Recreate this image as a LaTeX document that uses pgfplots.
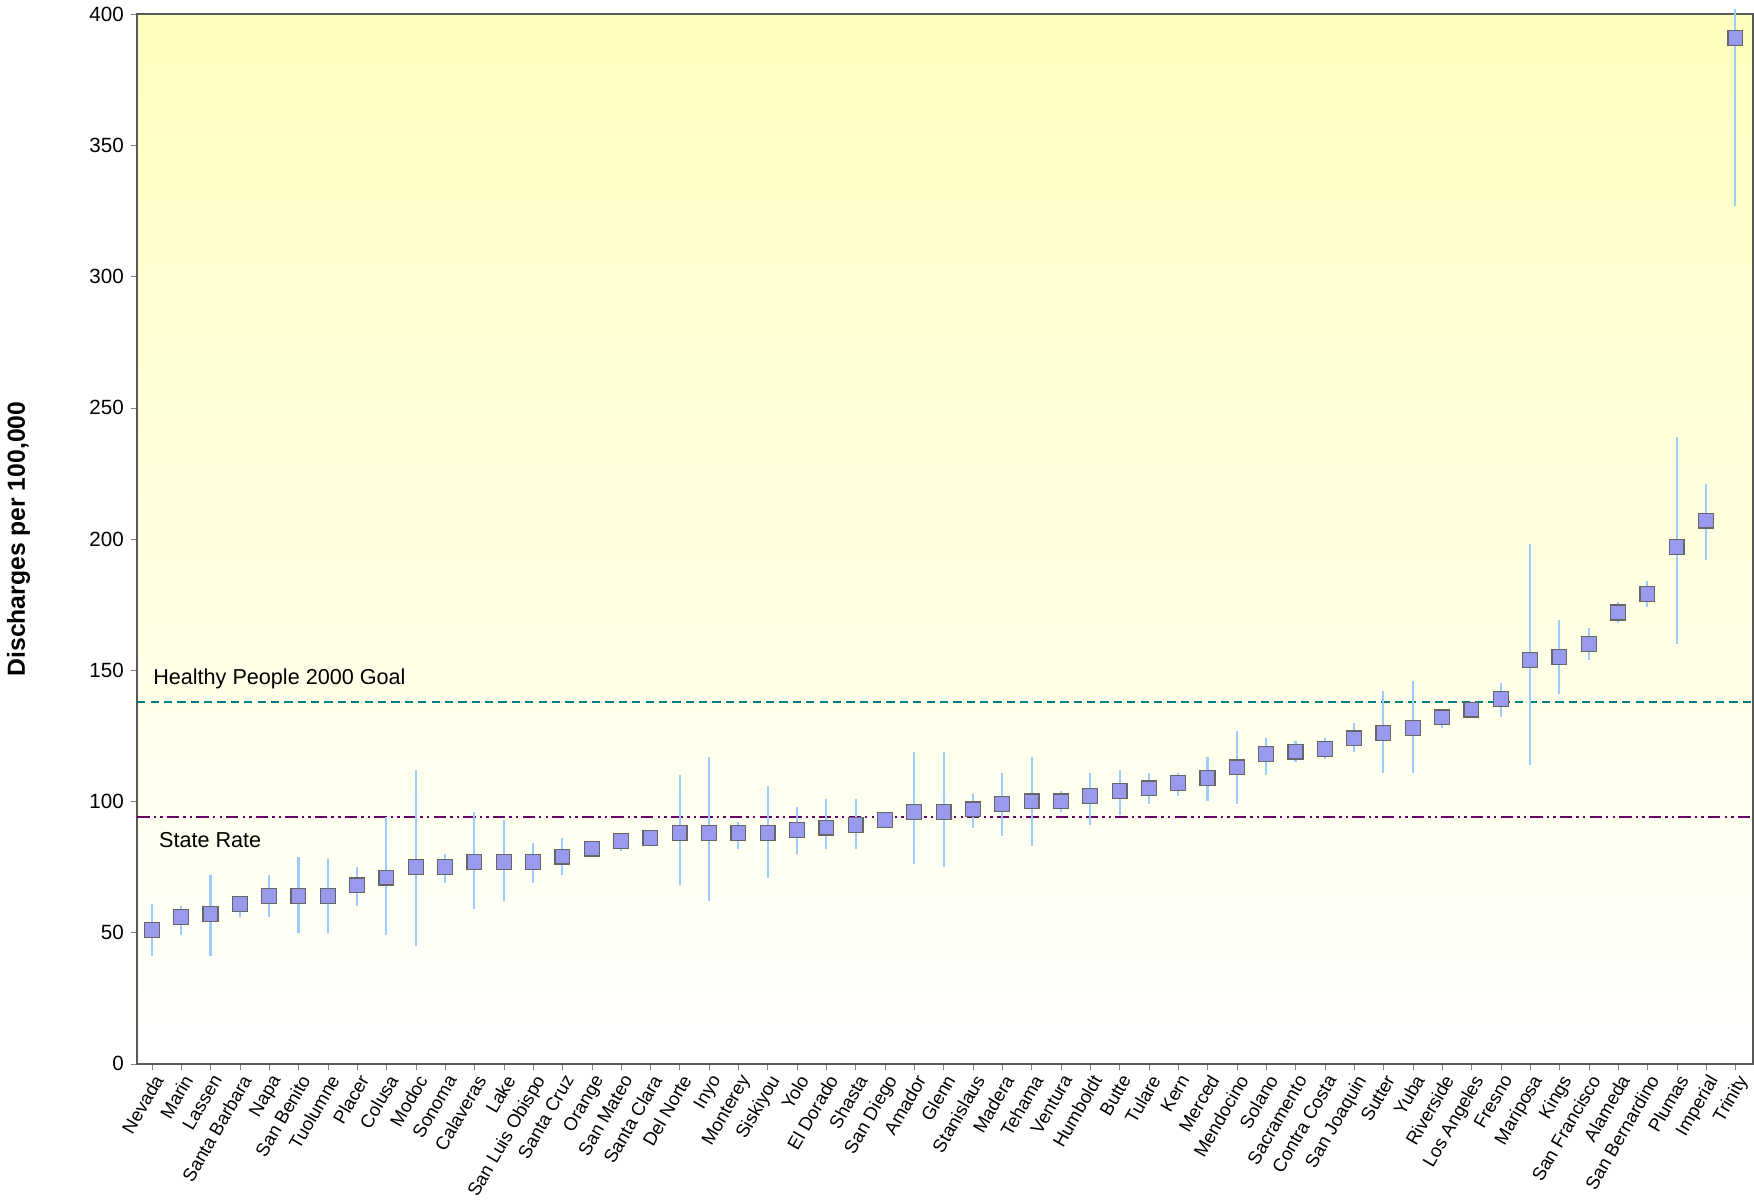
\documentclass[border=0pt]{standalone}
\usepackage{pgfplots}
\pgfplotsset{compat=1.18}
\usepackage{pgfplotstable}
\usepackage{fontspec}
\setmainfont{Liberation Sans}
\definecolor{mk}{HTML}{9999EE}
\definecolor{eb}{HTML}{99CCFF}
\definecolor{hp}{HTML}{008080}
\definecolor{sr}{HTML}{660066}
\pgfplotstableread{
x y lo hi
0 51 41 61
1 56 49 60
2 57 41 72
3 61 56 64
4 64 56 72
5 64 50 79
6 64 50 78
7 68 60 75
8 71 49 94
9 75 45 112
10 75 69 80
11 77 59 96
12 77 62 93
13 77 69 84
14 79 72 86
15 82 80 84
16 85 81 88
17 86 83 88
18 88 68 110
19 88 62 117
20 88 82 92
21 88 71 106
22 89 80 98
23 90 82 101
24 91 82 101
25 93 92 95
26 96 76 119
27 96 75 119
28 97 90 103
29 99 87 111
30 100 83 117
31 100 96 104
32 102 91 111
33 104 95 112
34 105 99 111
35 107 102 111
36 109 100 117
37 113 99 127
38 118 110 124
39 119 115 123
40 120 116 124
41 124 119 130
42 126 111 142
43 128 111 146
44 132 128 135
45 135 133 137
46 139 132 145
47 154 114 198
48 155 141 169
49 160 154 166
50 172 168 176
51 179 174 184
52 197 160 239
53 207 192 221
54 391 327 402
}\data
\pgfplotstablecreatecol[expr={\thisrow{hi}-\thisrow{y}}]{ep}{\data}
\pgfplotstablecreatecol[expr={\thisrow{y}-\thisrow{lo}}]{em}{\data}
\begin{document}
\begin{tikzpicture}
\begin{axis}[
  scale only axis, width=785pt, height=510pt,
  xmin=-0.5, xmax=54.6, ymin=0, ymax=400,
  ytick={0,50,...,400},
  xtick={0,...,54},
  xticklabels={Nevada,Marin,Lassen,Santa Barbara,Napa,San Benito,Tuolumne,Placer,Colusa,Modoc,Sonoma,Calaveras,Lake,San Luis Obispo,Santa Cruz,Orange,San Mateo,Santa Clara,Del Norte,Inyo,Monterey,Siskiyou,Yolo,El Dorado,Shasta,San Diego,Amador,Glenn,Stanislaus,Madera,Tehama,Ventura,Humboldt,Butte,Tulare,Kern,Merced,Mendocino,Solano,Sacramento,Contra Costa,San Joaquin,Sutter,Yuba,Riverside,Los Angeles,Fresno,Mariposa,Kings,San Francisco,Alameda,San Bernardino,Plumas,Imperial,Trinity},
  xticklabel style={rotate=60, anchor=north east, inner sep=1pt, font=\fontsize{9}{10}\selectfont},
  yticklabel style={font=\fontsize{10}{11}\selectfont},
  /pgf/number format/assume math mode=true,
  tick align=outside, tick pos=left,
  major tick length=3pt,
  axis line style={gray!70!black, line width=0.8pt},
  ylabel={\bfseries Discharges per 100,000},
  ylabel style={font=\fontsize{12}{13}\selectfont, yshift=22pt},
  axis background/.style={shade, shading angle=45, left color=white, right color=white, top color=yellow!25, bottom color=white},
  clip=false,
]
\addplot[draw=hp, dash pattern=on 4pt off 2.5pt, line width=1pt] coordinates {(-0.5,138) (54.6,138)};
\addplot[draw=sr, dash pattern=on 6pt off 2pt on 1.2pt off 2pt on 1.2pt off 2pt, line width=1pt] coordinates {(-0.5,94) (54.6,94)};
\addplot[only marks, mark=square*, mark size=3.6pt, mark options={fill=mk, draw=gray!80!black, line width=0.6pt},
  error bars/.cd, y dir=both, y explicit, error bar style={eb, line width=1pt}, error mark=none]
  table[x=x, y=y, y error plus=ep, y error minus=em]{\data};
\node[anchor=south west, font=\fontsize{10.5}{12}\selectfont] at (axis cs:-0.2,140) {Healthy People 2000 Goal};
\node[anchor=north west, font=\fontsize{10.5}{12}\selectfont] at (axis cs:0.0,91) {State Rate};
\end{axis}
\end{tikzpicture}
\end{document}
